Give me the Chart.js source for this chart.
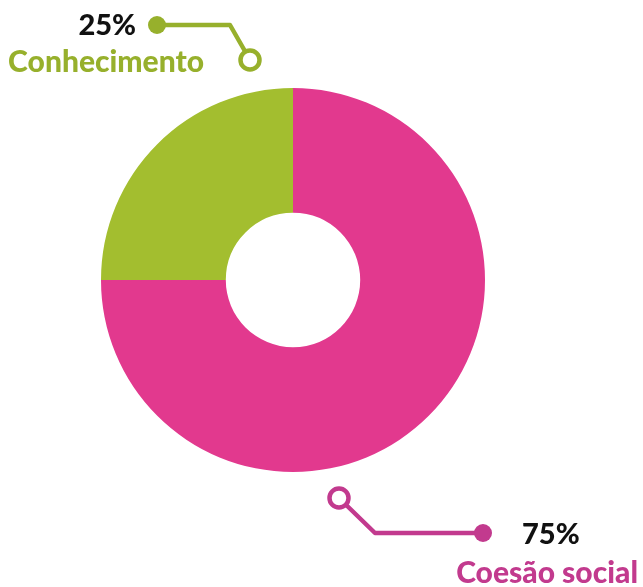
<!DOCTYPE html>
<html lang="pt">
<head>
<meta charset="utf-8">
<title>Coesão social / Conhecimento</title>
<script src="https://cdn.jsdelivr.net/npm/chart.js@4/dist/chart.umd.min.js"></script>
<style>
  html, body { margin: 0; padding: 0; background: #fff; }
  #wrap { position: relative; width: 643px; height: 587px; }
</style>
</head>
<body>
<div id="wrap"><canvas id="pie"></canvas></div>
<script>
// Données
const categories = ["Coesão social", "Conhecimento"];
const values = [75, 25];
const sliceColors = ["#E2398E", "#A3BE2F"];
const labelColors = ["#C23A8E", "#97B02C"];

// Légendes avec traits de rappel (décalages par rapport au centre du donut)
const callouts = [
  {
    // Coesão social, en bas à droite
    ring: [46, 218], corner: [82, 253], dot: [190, 253],
    pct: { x: 229, y: 264, align: "left" },
    name: { x: 345, y: 303, align: "right" }
  },
  {
    // Conhecimento, en haut à gauche
    ring: [-43, -220], corner: [-63, -255], dot: [-136, -255],
    pct: { x: -157, y: -245, align: "right" },
    name: { x: -89, y: -208, align: "right" }
  }
];

const calloutPlugin = {
  id: "callouts",
  afterDraw(chart) {
    const ctx = chart.ctx;
    const arc = chart.getDatasetMeta(0).data[0];
    if (!arc) return;
    const cx = arc.x;
    const cy = arc.y;

    callouts.forEach((c, i) => {
      const color = labelColors[i];
      ctx.save();
      ctx.strokeStyle = color;
      ctx.fillStyle = color;
      ctx.lineWidth = 4.5;
      ctx.lineJoin = "round";

      ctx.beginPath();
      ctx.moveTo(cx + c.ring[0], cy + c.ring[1]);
      ctx.lineTo(cx + c.corner[0], cy + c.corner[1]);
      ctx.lineTo(cx + c.dot[0], cy + c.dot[1]);
      ctx.stroke();

      // anneau ouvert côté donut
      ctx.beginPath();
      ctx.arc(cx + c.ring[0], cy + c.ring[1], 9.5, 0, Math.PI * 2);
      ctx.fillStyle = "#fff";
      ctx.fill();
      ctx.stroke();

      // point plein côté texte
      ctx.beginPath();
      ctx.arc(cx + c.dot[0], cy + c.dot[1], 9, 0, Math.PI * 2);
      ctx.fillStyle = color;
      ctx.fill();

      ctx.textBaseline = "alphabetic";
      ctx.font = "900 29px Lato";
      ctx.fillStyle = "#111";
      ctx.textAlign = c.pct.align;
      ctx.fillText(`${values[i]}%`, cx + c.pct.x, cy + c.pct.y);

      ctx.font = "900 30px Lato";
      ctx.fillStyle = color;
      ctx.textAlign = c.name.align;
      ctx.fillText(categories[i], cx + c.name.x, cy + c.name.y);
      ctx.restore();
    });
  }
};

new Chart(document.getElementById("pie"), {
  type: "doughnut",
  data: {
    labels: categories,
    datasets: [{
      data: values,
      backgroundColor: sliceColors,
      borderWidth: 0,
      hoverOffset: 0
    }]
  },
  options: {
    responsive: true,
    maintainAspectRatio: false,
    animation: false,
    cutout: "35%",
    layout: { padding: { left: 101, right: 158, top: 88, bottom: 115 } },
    plugins: {
      legend: { display: false },
      tooltip: { enabled: false }
    }
  },
  plugins: [calloutPlugin]
});
</script>
</body>
</html>
